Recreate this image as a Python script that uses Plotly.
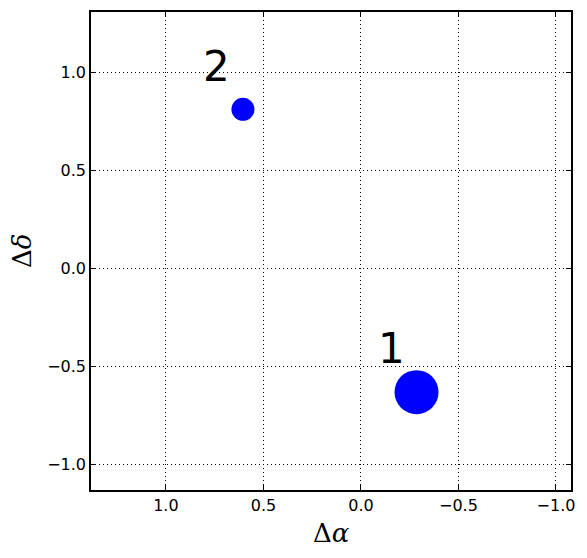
import plotly.graph_objects as go

labels = ["1", "2"]
d_alpha = [-0.285, 0.605]
d_delta = [-0.632, 0.813]
sizes = [44, 23]
label_x = [-0.157, 0.742]
label_y = [-0.407, 1.033]

x_ticks = [1.0, 0.5, 0.0, -0.5, -1.0]
x_ticktext = ["1.0", "0.5", "0.0", "\u22120.5", "\u22121.0"]
y_ticks = [1.0, 0.5, 0.0, -0.5, -1.0]
y_ticktext = ["1.0", "0.5", "0.0", "\u22120.5", "\u22121.0"]

fig = go.Figure()
fig.add_trace(go.Scatter(
    x=d_alpha, y=d_delta, mode="markers",
    marker=dict(size=sizes, color="#0000ff", opacity=1, line=dict(width=0)),
    opacity=1, showlegend=False, hoverinfo="skip"))

for t, lx, ly in zip(labels, label_x, label_y):
    fig.add_annotation(x=lx, y=ly, text=t, showarrow=False, xref="x", yref="y",
                       yanchor="middle", xanchor="center",
                       font=dict(family="DejaVu Sans", size=42, color="black"))

axis_common = dict(
    showline=True, linecolor="black", linewidth=1.5, mirror="ticks",
    ticks="inside", ticklen=5, tickcolor="black", tickwidth=1,
    showgrid=True, gridcolor="black", gridwidth=1, griddash="1px,3px",
    zeroline=False, tickfont=dict(family="DejaVu Sans", size=16, color="black"),
)

fig.update_xaxes(range=[1.384, -1.077], tickvals=x_ticks, ticktext=x_ticktext, **axis_common)
fig.update_yaxes(range=[-1.132, 1.31], tickvals=y_ticks, ticktext=y_ticktext, **axis_common)

fig.add_annotation(x=0.5, y=0, xref="paper", yref="paper", text="\u0394<i>\u03b1</i>",
                   showarrow=False, yanchor="middle", xanchor="center", yshift=-43,
                   font=dict(family="DejaVu Serif", size=26, color="black"))
fig.add_annotation(x=0, y=0.5, xref="paper", yref="paper", text="\u0394<i>\u03b4</i>",
                   showarrow=False, yanchor="middle", xanchor="center", xshift=-69,
                   textangle=-90,
                   font=dict(family="DejaVu Serif", size=26, color="black"))

fig.update_layout(
    width=587, height=558,
    margin=dict(l=91, r=16, t=10, b=68),
    paper_bgcolor="white", plot_bgcolor="white",
)

fig.write_html("out.html", config={"displayModeBar": False},
               post_script="document.body.style.margin='0';document.body.style.overflow='hidden';")
